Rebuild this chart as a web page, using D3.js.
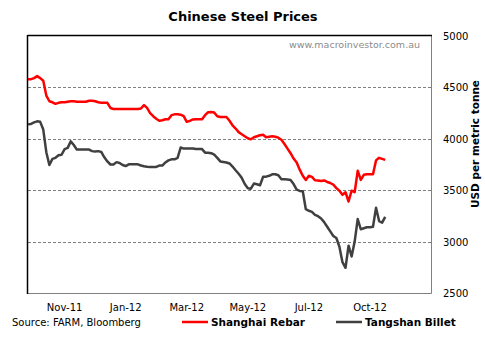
<!DOCTYPE html>
<html>
<head>
<meta charset="utf-8">
<script src="https://cdnjs.cloudflare.com/ajax/libs/d3/7.8.5/d3.min.js"></script>
<style>
  body { margin: 0; background: #fff; }
</style>
</head>
<body>
<div id="chart"></div>
<script>
// data (weekly-ish readings, USD per tonne)
var rebar = [
  4580, 4580, 4590, 4610, 4590, 4565, 4420, 4365, 4355, 4340,
  4350, 4355, 4355, 4360, 4365, 4365, 4360, 4360, 4360, 4360,
  4370, 4370, 4365, 4355, 4350, 4350, 4350, 4300, 4290, 4290,
  4290, 4290, 4290, 4290, 4290, 4290, 4290, 4295, 4328, 4300,
  4250, 4220, 4195, 4175, 4180, 4190, 4190, 4230, 4238, 4238,
  4235, 4220, 4165, 4175, 4188, 4190, 4190, 4190, 4230, 4258,
  4260, 4255, 4220, 4212, 4212, 4212, 4175, 4130, 4100, 4065,
  4045, 4025, 4005, 3995, 4015, 4025, 4035, 4040, 4015, 4020,
  4024, 4020, 4011, 3990, 3950, 3905, 3860, 3808, 3770, 3700,
  3640, 3600, 3640, 3630, 3597, 3595, 3590, 3595, 3580, 3570,
  3555, 3520, 3495, 3455, 3480, 3390, 3495, 3480, 3690, 3600,
  3650, 3655, 3655, 3655, 3790, 3815, 3805, 3795
];

var billet = [
  4141, 4145, 4160, 4170, 4165, 4090, 3870, 3745, 3805, 3815,
  3840, 3845, 3900, 3912, 3975, 3940, 3895, 3895, 3895, 3895,
  3895, 3880, 3876, 3880, 3872, 3820, 3780, 3750, 3750, 3773,
  3765, 3745, 3735, 3752, 3752, 3752, 3752, 3740, 3733, 3728,
  3726, 3726, 3726, 3740, 3740, 3770, 3790, 3800, 3801, 3815,
  3915, 3905, 3905, 3905, 3905, 3900, 3900, 3900, 3865, 3865,
  3860, 3845, 3815, 3780, 3775, 3770, 3760, 3730, 3694, 3660,
  3620, 3560, 3520, 3515, 3565, 3558, 3548, 3630, 3632, 3640,
  3655, 3655, 3645, 3607, 3607, 3605, 3600, 3560, 3505, 3493,
  3490, 3315, 3300, 3289, 3260, 3247, 3225, 3190, 3145, 3100,
  3055, 3035, 2950, 2800, 2745, 2960, 2855, 3000, 3220, 3120,
  3130, 3140, 3140, 3145, 3330, 3200, 3185, 3240
];

var xTickIndex = [12, 32, 52, 72, 92, 112];
var xTickLabels = ['Nov-11', 'Jan-12', 'Mar-12', 'May-12', 'Jul-12', 'Oct-12'];
var yTicks = [2500, 3000, 3500, 4000, 4500, 5000];

var seriesNames = ['Shanghai Rebar', 'Tangshan Billet'];
var seriesColors = ['#ff0000', '#404040'];

var attrs = {
  fontFamily: 'DejaVu Sans',
  svgWidth: 485,
  svgHeight: 345,
  plotLeft: 28,
  plotRight: 431,
  plotTop: 36,
  plotBottom: 293
};

var svg = d3.select('#chart')
  .append('svg')
  .attr('width', attrs.svgWidth)
  .attr('height', attrs.svgHeight)
  .attr('font-family', attrs.fontFamily);

// scales
var x = d3.scaleLinear()
  .domain([0, 132])
  .range([attrs.plotLeft, attrs.plotRight]);

var y = d3.scaleLinear()
  .domain([2500, 5000])
  .range([attrs.plotBottom, attrs.plotTop]);

// title
svg.append('text')
  .attr('x', 243)
  .attr('y', 21)
  .attr('text-anchor', 'middle')
  .attr('font-size', 13)
  .attr('font-weight', 'bold')
  .attr('fill', '#000')
  .text('Chinese Steel Prices');

// gridlines
svg.append('g')
  .selectAll('line')
  .data(yTicks.filter(d => d > 2500 && d < 5000))
  .enter()
  .append('line')
  .attr('x1', attrs.plotLeft)
  .attr('x2', attrs.plotRight)
  .attr('y1', d => Math.round(y(d)) + 0.5)
  .attr('y2', d => Math.round(y(d)) + 0.5)
  .attr('stroke', '#7f7f7f')
  .attr('stroke-dasharray', '3,2');

// frame: grey right/bottom, black left/top
var frame = svg.append('g');
frame.append('line')
  .attr('x1', attrs.plotRight + 0.5).attr('x2', attrs.plotRight + 0.5)
  .attr('y1', attrs.plotTop).attr('y2', attrs.plotBottom + 0.5)
  .attr('stroke', '#808080');
frame.append('line')
  .attr('x1', attrs.plotLeft).attr('x2', attrs.plotRight + 0.5)
  .attr('y1', attrs.plotBottom + 0.5).attr('y2', attrs.plotBottom + 0.5)
  .attr('stroke', '#808080');
frame.append('line')
  .attr('x1', attrs.plotLeft - 0.5).attr('x2', attrs.plotRight + 1)
  .attr('y1', attrs.plotTop - 0.5).attr('y2', attrs.plotTop - 0.5)
  .attr('stroke', '#000').attr('stroke-width', 1.5);
frame.append('line')
  .attr('x1', attrs.plotLeft - 0.5).attr('x2', attrs.plotLeft - 0.5)
  .attr('y1', attrs.plotTop - 1).attr('y2', attrs.plotBottom + 1)
  .attr('stroke', '#000').attr('stroke-width', 1.5);

// watermark
svg.append('text')
  .attr('x', 420)
  .attr('y', 48)
  .attr('text-anchor', 'end')
  .attr('font-size', 9.5)
  .attr('fill', '#8c8c8c')
  .text('www.macroinvestor.com.au');

// lines
var line = d3.line()
  .x((d, i) => x(i))
  .y(d => y(d));

[rebar, billet].forEach((series, k) => {
  svg.append('path')
    .datum(series)
    .attr('d', line)
    .attr('fill', 'none')
    .attr('stroke', seriesColors[k])
    .attr('stroke-width', 2.5)
    .attr('stroke-linejoin', 'round');
});

// y tick labels on the right
svg.append('g')
  .selectAll('text')
  .data(yTicks)
  .enter()
  .append('text')
  .attr('x', 443)
  .attr('y', d => y(d) + 4)
  .attr('font-size', 10)
  .attr('fill', '#000')
  .text(d => d);

// y axis title
svg.append('text')
  .attr('transform', 'translate(479,144) rotate(-90)')
  .attr('text-anchor', 'middle')
  .attr('font-size', 10.5)
  .attr('font-weight', 'bold')
  .text('USD per metric tonne');

// x tick labels
svg.append('g')
  .selectAll('text')
  .data(xTickIndex)
  .enter()
  .append('text')
  .attr('x', d => x(d))
  .attr('y', 311)
  .attr('text-anchor', 'middle')
  .attr('font-size', 10)
  .text((d, i) => xTickLabels[i]);

// source
svg.append('text')
  .attr('x', 12)
  .attr('y', 326)
  .attr('font-size', 10)
  .text('Source: FARM, Bloomberg');

// legend
var legendX = [182, 336];
var legend = svg.append('g')
  .selectAll('g')
  .data(seriesNames)
  .enter()
  .append('g')
  .attr('transform', (d, i) => `translate(${legendX[i]},322)`);

legend.append('line')
  .attr('x1', 0).attr('x2', 26)
  .attr('y1', 0).attr('y2', 0)
  .attr('stroke', (d, i) => seriesColors[i])
  .attr('stroke-width', 2.5);

legend.append('text')
  .attr('x', 29)
  .attr('y', 4)
  .attr('font-size', 10.5)
  .attr('font-weight', 'bold')
  .text(d => d);
</script>
</body>
</html>
